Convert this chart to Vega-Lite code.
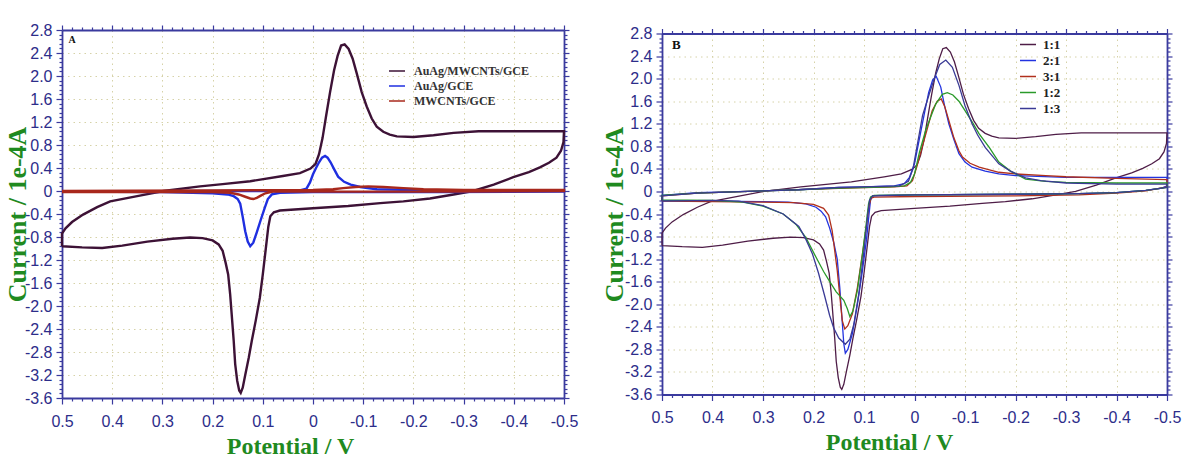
{
"$schema": "https://vega.github.io/schema/vega-lite/v6.json",
"background": "white",
"padding": {"left": 4, "top": 22, "right": 5, "bottom": 0},
"spacing": 23,
"center": true,
"resolve": {"scale": {"color": "independent"}, "legend": {"color": "independent"}},
"config": {
  "view": {"stroke": null},
  "axis": {"domainColor": "#3a3a9e", "domainWidth": 1.8, "tickColor": "#3a3a9e", "tickWidth": 1.2, "labelColor": "#2d2d8a", "labelFont": "Liberation Sans Narrow, Liberation Sans, Arial, sans-serif", "labelFontSize": 16, "gridColor": "#d6d2a8", "gridDash": [1.5, 4], "gridWidth": 1, "titleColor": "#1f8a1f", "titleFont": "Liberation Serif", "titleFontWeight": "bold", "titleFontSize": 24, "labelOverlap": false, "labelFlush": false, "labelBound": false},
  "axisLeft": {"titleFontSize": 26}
},
"datasets": {
"a": [
{"s":"AuAg/MWCNTs/GCE","n":1,"E":0.5,"I":-0.96},{"s":"AuAg/MWCNTs/GCE","n":2,"E":0.46,"I":-0.98},{"s":"AuAg/MWCNTs/GCE","n":3,"E":0.42,"I":-0.99},{"s":"AuAg/MWCNTs/GCE","n":4,"E":0.38,"I":-0.95},{"s":"AuAg/MWCNTs/GCE","n":5,"E":0.33,"I":-0.88},{"s":"AuAg/MWCNTs/GCE","n":6,"E":0.28,"I":-0.83},{"s":"AuAg/MWCNTs/GCE","n":7,"E":0.245,"I":-0.81},{"s":"AuAg/MWCNTs/GCE","n":8,"E":0.22,"I":-0.82},{"s":"AuAg/MWCNTs/GCE","n":9,"E":0.2,"I":-0.86},{"s":"AuAg/MWCNTs/GCE","n":10,"E":0.188,"I":-0.93},{"s":"AuAg/MWCNTs/GCE","n":11,"E":0.18,"I":-1.04},{"s":"AuAg/MWCNTs/GCE","n":12,"E":0.174,"I":-1.25},{"s":"AuAg/MWCNTs/GCE","n":13,"E":0.169,"I":-1.45},{"s":"AuAg/MWCNTs/GCE","n":14,"E":0.165,"I":-1.8},{"s":"AuAg/MWCNTs/GCE","n":15,"E":0.162,"I":-2.14},{"s":"AuAg/MWCNTs/GCE","n":16,"E":0.158,"I":-2.6},{"s":"AuAg/MWCNTs/GCE","n":17,"E":0.155,"I":-3.01},{"s":"AuAg/MWCNTs/GCE","n":18,"E":0.151,"I":-3.3},{"s":"AuAg/MWCNTs/GCE","n":19,"E":0.147,"I":-3.47},{"s":"AuAg/MWCNTs/GCE","n":20,"E":0.144,"I":-3.51},{"s":"AuAg/MWCNTs/GCE","n":21,"E":0.14,"I":-3.42},{"s":"AuAg/MWCNTs/GCE","n":22,"E":0.135,"I":-3.2},{"s":"AuAg/MWCNTs/GCE","n":23,"E":0.128,"I":-2.9},{"s":"AuAg/MWCNTs/GCE","n":24,"E":0.122,"I":-2.61},{"s":"AuAg/MWCNTs/GCE","n":25,"E":0.114,"I":-2.25},{"s":"AuAg/MWCNTs/GCE","n":26,"E":0.106,"I":-1.86},{"s":"AuAg/MWCNTs/GCE","n":27,"E":0.1,"I":-1.45},{"s":"AuAg/MWCNTs/GCE","n":28,"E":0.094,"I":-1.0},{"s":"AuAg/MWCNTs/GCE","n":29,"E":0.089,"I":-0.62},{"s":"AuAg/MWCNTs/GCE","n":30,"E":0.085,"I":-0.44},{"s":"AuAg/MWCNTs/GCE","n":31,"E":0.078,"I":-0.37},{"s":"AuAg/MWCNTs/GCE","n":32,"E":0.066,"I":-0.34},{"s":"AuAg/MWCNTs/GCE","n":33,"E":0.0,"I":-0.3},{"s":"AuAg/MWCNTs/GCE","n":34,"E":-0.07,"I":-0.26},{"s":"AuAg/MWCNTs/GCE","n":35,"E":-0.134,"I":-0.21},{"s":"AuAg/MWCNTs/GCE","n":36,"E":-0.18,"I":-0.18},{"s":"AuAg/MWCNTs/GCE","n":37,"E":-0.233,"I":-0.13},{"s":"AuAg/MWCNTs/GCE","n":38,"E":-0.28,"I":-0.06},{"s":"AuAg/MWCNTs/GCE","n":39,"E":-0.319,"I":0.0},{"s":"AuAg/MWCNTs/GCE","n":40,"E":-0.36,"I":0.11},{"s":"AuAg/MWCNTs/GCE","n":41,"E":-0.399,"I":0.24},{"s":"AuAg/MWCNTs/GCE","n":42,"E":-0.43,"I":0.33},{"s":"AuAg/MWCNTs/GCE","n":43,"E":-0.452,"I":0.41},{"s":"AuAg/MWCNTs/GCE","n":44,"E":-0.47,"I":0.49},{"s":"AuAg/MWCNTs/GCE","n":45,"E":-0.485,"I":0.58},{"s":"AuAg/MWCNTs/GCE","n":46,"E":-0.494,"I":0.7},{"s":"AuAg/MWCNTs/GCE","n":47,"E":-0.499,"I":0.85},{"s":"AuAg/MWCNTs/GCE","n":48,"E":-0.5,"I":1.04},{"s":"AuAg/MWCNTs/GCE","n":49,"E":-0.45,"I":1.04},{"s":"AuAg/MWCNTs/GCE","n":50,"E":-0.4,"I":1.04},{"s":"AuAg/MWCNTs/GCE","n":51,"E":-0.33,"I":1.04},{"s":"AuAg/MWCNTs/GCE","n":52,"E":-0.28,"I":1.01},{"s":"AuAg/MWCNTs/GCE","n":53,"E":-0.24,"I":0.97},{"s":"AuAg/MWCNTs/GCE","n":54,"E":-0.2,"I":0.94},{"s":"AuAg/MWCNTs/GCE","n":55,"E":-0.167,"I":0.95},{"s":"AuAg/MWCNTs/GCE","n":56,"E":-0.153,"I":0.98},{"s":"AuAg/MWCNTs/GCE","n":57,"E":-0.14,"I":1.03},{"s":"AuAg/MWCNTs/GCE","n":58,"E":-0.127,"I":1.12},{"s":"AuAg/MWCNTs/GCE","n":59,"E":-0.117,"I":1.26},{"s":"AuAg/MWCNTs/GCE","n":60,"E":-0.107,"I":1.47},{"s":"AuAg/MWCNTs/GCE","n":61,"E":-0.097,"I":1.72},{"s":"AuAg/MWCNTs/GCE","n":62,"E":-0.087,"I":2.05},{"s":"AuAg/MWCNTs/GCE","n":63,"E":-0.079,"I":2.3},{"s":"AuAg/MWCNTs/GCE","n":64,"E":-0.071,"I":2.47},{"s":"AuAg/MWCNTs/GCE","n":65,"E":-0.063,"I":2.55},{"s":"AuAg/MWCNTs/GCE","n":66,"E":-0.056,"I":2.53},{"s":"AuAg/MWCNTs/GCE","n":67,"E":-0.049,"I":2.35},{"s":"AuAg/MWCNTs/GCE","n":68,"E":-0.042,"I":2.1},{"s":"AuAg/MWCNTs/GCE","n":69,"E":-0.034,"I":1.72},{"s":"AuAg/MWCNTs/GCE","n":70,"E":-0.026,"I":1.3},{"s":"AuAg/MWCNTs/GCE","n":71,"E":-0.019,"I":0.92},{"s":"AuAg/MWCNTs/GCE","n":72,"E":-0.012,"I":0.64},{"s":"AuAg/MWCNTs/GCE","n":73,"E":-0.005,"I":0.47},{"s":"AuAg/MWCNTs/GCE","n":74,"E":0.005,"I":0.39},{"s":"AuAg/MWCNTs/GCE","n":75,"E":0.026,"I":0.31},{"s":"AuAg/MWCNTs/GCE","n":76,"E":0.06,"I":0.26},{"s":"AuAg/MWCNTs/GCE","n":77,"E":0.125,"I":0.17},{"s":"AuAg/MWCNTs/GCE","n":78,"E":0.18,"I":0.12},{"s":"AuAg/MWCNTs/GCE","n":79,"E":0.225,"I":0.08},{"s":"AuAg/MWCNTs/GCE","n":80,"E":0.298,"I":0.0},{"s":"AuAg/MWCNTs/GCE","n":81,"E":0.345,"I":-0.08},{"s":"AuAg/MWCNTs/GCE","n":82,"E":0.404,"I":-0.18},{"s":"AuAg/MWCNTs/GCE","n":83,"E":0.43,"I":-0.28},{"s":"AuAg/MWCNTs/GCE","n":84,"E":0.458,"I":-0.41},{"s":"AuAg/MWCNTs/GCE","n":85,"E":0.48,"I":-0.54},{"s":"AuAg/MWCNTs/GCE","n":86,"E":0.493,"I":-0.65},{"s":"AuAg/MWCNTs/GCE","n":87,"E":0.5,"I":-0.74},{"s":"AuAg/MWCNTs/GCE","n":88,"E":0.5,"I":-0.96},
{"s":"AuAg/GCE","n":1,"E":0.5,"I":-0.01},{"s":"AuAg/GCE","n":2,"E":0.3,"I":-0.02},{"s":"AuAg/GCE","n":3,"E":0.2,"I":-0.04},{"s":"AuAg/GCE","n":4,"E":0.17,"I":-0.06},{"s":"AuAg/GCE","n":5,"E":0.158,"I":-0.09},{"s":"AuAg/GCE","n":6,"E":0.15,"I":-0.14},{"s":"AuAg/GCE","n":7,"E":0.145,"I":-0.22},{"s":"AuAg/GCE","n":8,"E":0.14,"I":-0.45},{"s":"AuAg/GCE","n":9,"E":0.135,"I":-0.7},{"s":"AuAg/GCE","n":10,"E":0.13,"I":-0.88},{"s":"AuAg/GCE","n":11,"E":0.125,"I":-0.96},{"s":"AuAg/GCE","n":12,"E":0.119,"I":-0.9},{"s":"AuAg/GCE","n":13,"E":0.112,"I":-0.72},{"s":"AuAg/GCE","n":14,"E":0.104,"I":-0.5},{"s":"AuAg/GCE","n":15,"E":0.096,"I":-0.29},{"s":"AuAg/GCE","n":16,"E":0.09,"I":-0.14},{"s":"AuAg/GCE","n":17,"E":0.082,"I":-0.06},{"s":"AuAg/GCE","n":18,"E":0.066,"I":-0.03},{"s":"AuAg/GCE","n":19,"E":0.0,"I":-0.02},{"s":"AuAg/GCE","n":20,"E":-0.25,"I":-0.02},{"s":"AuAg/GCE","n":21,"E":-0.5,"I":-0.01},{"s":"AuAg/GCE","n":22,"E":-0.5,"I":0.01},{"s":"AuAg/GCE","n":23,"E":-0.25,"I":0.01},{"s":"AuAg/GCE","n":24,"E":-0.127,"I":0.03},{"s":"AuAg/GCE","n":25,"E":-0.094,"I":0.07},{"s":"AuAg/GCE","n":26,"E":-0.075,"I":0.11},{"s":"AuAg/GCE","n":27,"E":-0.062,"I":0.16},{"s":"AuAg/GCE","n":28,"E":-0.05,"I":0.25},{"s":"AuAg/GCE","n":29,"E":-0.042,"I":0.38},{"s":"AuAg/GCE","n":30,"E":-0.035,"I":0.5},{"s":"AuAg/GCE","n":31,"E":-0.029,"I":0.58},{"s":"AuAg/GCE","n":32,"E":-0.024,"I":0.61},{"s":"AuAg/GCE","n":33,"E":-0.018,"I":0.58},{"s":"AuAg/GCE","n":34,"E":-0.012,"I":0.5},{"s":"AuAg/GCE","n":35,"E":-0.006,"I":0.4},{"s":"AuAg/GCE","n":36,"E":0.0,"I":0.29},{"s":"AuAg/GCE","n":37,"E":0.006,"I":0.15},{"s":"AuAg/GCE","n":38,"E":0.013,"I":0.04},{"s":"AuAg/GCE","n":39,"E":0.03,"I":0.0},{"s":"AuAg/GCE","n":40,"E":0.2,"I":0.0},{"s":"AuAg/GCE","n":41,"E":0.5,"I":-0.01},
{"s":"MWCNTs/GCE","n":1,"E":0.5,"I":-0.02},{"s":"MWCNTs/GCE","n":2,"E":0.2,"I":-0.02},{"s":"MWCNTs/GCE","n":3,"E":0.165,"I":-0.03},{"s":"MWCNTs/GCE","n":4,"E":0.148,"I":-0.06},{"s":"MWCNTs/GCE","n":5,"E":0.135,"I":-0.1},{"s":"MWCNTs/GCE","n":6,"E":0.125,"I":-0.13},{"s":"MWCNTs/GCE","n":7,"E":0.119,"I":-0.14},{"s":"MWCNTs/GCE","n":8,"E":0.112,"I":-0.12},{"s":"MWCNTs/GCE","n":9,"E":0.104,"I":-0.08},{"s":"MWCNTs/GCE","n":10,"E":0.095,"I":-0.04},{"s":"MWCNTs/GCE","n":11,"E":0.08,"I":-0.01},{"s":"MWCNTs/GCE","n":12,"E":0.0,"I":-0.01},{"s":"MWCNTs/GCE","n":13,"E":-0.3,"I":-0.01},{"s":"MWCNTs/GCE","n":14,"E":-0.5,"I":0.0},{"s":"MWCNTs/GCE","n":15,"E":-0.5,"I":0.02},{"s":"MWCNTs/GCE","n":16,"E":-0.3,"I":0.02},{"s":"MWCNTs/GCE","n":17,"E":-0.22,"I":0.03},{"s":"MWCNTs/GCE","n":18,"E":-0.18,"I":0.05},{"s":"MWCNTs/GCE","n":19,"E":-0.14,"I":0.07},{"s":"MWCNTs/GCE","n":20,"E":-0.11,"I":0.08},{"s":"MWCNTs/GCE","n":21,"E":-0.085,"I":0.07},{"s":"MWCNTs/GCE","n":22,"E":-0.06,"I":0.05},{"s":"MWCNTs/GCE","n":23,"E":-0.04,"I":0.03},{"s":"MWCNTs/GCE","n":24,"E":0.0,"I":0.02},{"s":"MWCNTs/GCE","n":25,"E":0.2,"I":0.01},{"s":"MWCNTs/GCE","n":26,"E":0.5,"I":0.0}
],
"b": [
{"s":"1:1","n":1,"E":0.5,"I":-0.96},{"s":"1:1","n":2,"E":0.46,"I":-0.98},{"s":"1:1","n":3,"E":0.42,"I":-0.99},{"s":"1:1","n":4,"E":0.38,"I":-0.95},{"s":"1:1","n":5,"E":0.33,"I":-0.88},{"s":"1:1","n":6,"E":0.28,"I":-0.83},{"s":"1:1","n":7,"E":0.245,"I":-0.81},{"s":"1:1","n":8,"E":0.22,"I":-0.82},{"s":"1:1","n":9,"E":0.2,"I":-0.86},{"s":"1:1","n":10,"E":0.188,"I":-0.93},{"s":"1:1","n":11,"E":0.18,"I":-1.04},{"s":"1:1","n":12,"E":0.174,"I":-1.25},{"s":"1:1","n":13,"E":0.169,"I":-1.45},{"s":"1:1","n":14,"E":0.165,"I":-1.8},{"s":"1:1","n":15,"E":0.162,"I":-2.14},{"s":"1:1","n":16,"E":0.158,"I":-2.6},{"s":"1:1","n":17,"E":0.155,"I":-3.01},{"s":"1:1","n":18,"E":0.151,"I":-3.3},{"s":"1:1","n":19,"E":0.147,"I":-3.47},{"s":"1:1","n":20,"E":0.144,"I":-3.51},{"s":"1:1","n":21,"E":0.14,"I":-3.42},{"s":"1:1","n":22,"E":0.135,"I":-3.2},{"s":"1:1","n":23,"E":0.128,"I":-2.9},{"s":"1:1","n":24,"E":0.122,"I":-2.61},{"s":"1:1","n":25,"E":0.114,"I":-2.25},{"s":"1:1","n":26,"E":0.106,"I":-1.86},{"s":"1:1","n":27,"E":0.1,"I":-1.45},{"s":"1:1","n":28,"E":0.094,"I":-1.0},{"s":"1:1","n":29,"E":0.089,"I":-0.62},{"s":"1:1","n":30,"E":0.085,"I":-0.44},{"s":"1:1","n":31,"E":0.078,"I":-0.37},{"s":"1:1","n":32,"E":0.066,"I":-0.34},{"s":"1:1","n":33,"E":0.0,"I":-0.3},{"s":"1:1","n":34,"E":-0.07,"I":-0.26},{"s":"1:1","n":35,"E":-0.134,"I":-0.21},{"s":"1:1","n":36,"E":-0.18,"I":-0.18},{"s":"1:1","n":37,"E":-0.233,"I":-0.13},{"s":"1:1","n":38,"E":-0.28,"I":-0.06},{"s":"1:1","n":39,"E":-0.319,"I":0.0},{"s":"1:1","n":40,"E":-0.36,"I":0.11},{"s":"1:1","n":41,"E":-0.399,"I":0.24},{"s":"1:1","n":42,"E":-0.43,"I":0.33},{"s":"1:1","n":43,"E":-0.452,"I":0.41},{"s":"1:1","n":44,"E":-0.47,"I":0.49},{"s":"1:1","n":45,"E":-0.485,"I":0.58},{"s":"1:1","n":46,"E":-0.494,"I":0.7},{"s":"1:1","n":47,"E":-0.499,"I":0.85},{"s":"1:1","n":48,"E":-0.5,"I":1.04},{"s":"1:1","n":49,"E":-0.45,"I":1.04},{"s":"1:1","n":50,"E":-0.4,"I":1.04},{"s":"1:1","n":51,"E":-0.33,"I":1.04},{"s":"1:1","n":52,"E":-0.28,"I":1.01},{"s":"1:1","n":53,"E":-0.24,"I":0.97},{"s":"1:1","n":54,"E":-0.2,"I":0.94},{"s":"1:1","n":55,"E":-0.167,"I":0.95},{"s":"1:1","n":56,"E":-0.153,"I":0.98},{"s":"1:1","n":57,"E":-0.14,"I":1.03},{"s":"1:1","n":58,"E":-0.127,"I":1.12},{"s":"1:1","n":59,"E":-0.117,"I":1.26},{"s":"1:1","n":60,"E":-0.107,"I":1.47},{"s":"1:1","n":61,"E":-0.097,"I":1.72},{"s":"1:1","n":62,"E":-0.087,"I":2.05},{"s":"1:1","n":63,"E":-0.079,"I":2.3},{"s":"1:1","n":64,"E":-0.071,"I":2.47},{"s":"1:1","n":65,"E":-0.063,"I":2.55},{"s":"1:1","n":66,"E":-0.056,"I":2.53},{"s":"1:1","n":67,"E":-0.049,"I":2.35},{"s":"1:1","n":68,"E":-0.042,"I":2.1},{"s":"1:1","n":69,"E":-0.034,"I":1.72},{"s":"1:1","n":70,"E":-0.026,"I":1.3},{"s":"1:1","n":71,"E":-0.019,"I":0.92},{"s":"1:1","n":72,"E":-0.012,"I":0.64},{"s":"1:1","n":73,"E":-0.005,"I":0.47},{"s":"1:1","n":74,"E":0.005,"I":0.39},{"s":"1:1","n":75,"E":0.026,"I":0.31},{"s":"1:1","n":76,"E":0.06,"I":0.26},{"s":"1:1","n":77,"E":0.125,"I":0.17},{"s":"1:1","n":78,"E":0.18,"I":0.12},{"s":"1:1","n":79,"E":0.225,"I":0.08},{"s":"1:1","n":80,"E":0.298,"I":0.0},{"s":"1:1","n":81,"E":0.345,"I":-0.08},{"s":"1:1","n":82,"E":0.404,"I":-0.18},{"s":"1:1","n":83,"E":0.43,"I":-0.28},{"s":"1:1","n":84,"E":0.458,"I":-0.41},{"s":"1:1","n":85,"E":0.48,"I":-0.54},{"s":"1:1","n":86,"E":0.493,"I":-0.65},{"s":"1:1","n":87,"E":0.5,"I":-0.74},{"s":"1:1","n":88,"E":0.5,"I":-0.96},
{"s":"2:1","n":1,"E":0.5,"I":-0.16},{"s":"2:1","n":2,"E":0.4,"I":-0.17},{"s":"2:1","n":3,"E":0.3,"I":-0.18},{"s":"2:1","n":4,"E":0.25,"I":-0.19},{"s":"2:1","n":5,"E":0.215,"I":-0.22},{"s":"2:1","n":6,"E":0.195,"I":-0.28},{"s":"2:1","n":7,"E":0.185,"I":-0.35},{"s":"2:1","n":8,"E":0.176,"I":-0.45},{"s":"2:1","n":9,"E":0.168,"I":-0.65},{"s":"2:1","n":10,"E":0.16,"I":-0.9},{"s":"2:1","n":11,"E":0.153,"I":-1.2},{"s":"2:1","n":12,"E":0.148,"I":-1.7},{"s":"2:1","n":13,"E":0.144,"I":-2.2},{"s":"2:1","n":14,"E":0.14,"I":-2.7},{"s":"2:1","n":15,"E":0.137,"I":-2.87},{"s":"2:1","n":16,"E":0.132,"I":-2.8},{"s":"2:1","n":17,"E":0.123,"I":-2.52},{"s":"2:1","n":18,"E":0.113,"I":-2.0},{"s":"2:1","n":19,"E":0.103,"I":-1.4},{"s":"2:1","n":20,"E":0.095,"I":-0.85},{"s":"2:1","n":21,"E":0.09,"I":-0.4},{"s":"2:1","n":22,"E":0.087,"I":-0.15},{"s":"2:1","n":23,"E":0.083,"I":-0.08},{"s":"2:1","n":24,"E":0.07,"I":-0.07},{"s":"2:1","n":25,"E":0.0,"I":-0.06},{"s":"2:1","n":26,"E":-0.2,"I":-0.05},{"s":"2:1","n":27,"E":-0.326,"I":-0.04},{"s":"2:1","n":28,"E":-0.4,"I":-0.02},{"s":"2:1","n":29,"E":-0.458,"I":0.02},{"s":"2:1","n":30,"E":-0.49,"I":0.06},{"s":"2:1","n":31,"E":-0.5,"I":0.1},{"s":"2:1","n":32,"E":-0.5,"I":0.25},{"s":"2:1","n":33,"E":-0.4,"I":0.25},{"s":"2:1","n":34,"E":-0.3,"I":0.25},{"s":"2:1","n":35,"E":-0.2,"I":0.28},{"s":"2:1","n":36,"E":-0.167,"I":0.31},{"s":"2:1","n":37,"E":-0.14,"I":0.36},{"s":"2:1","n":38,"E":-0.114,"I":0.43},{"s":"2:1","n":39,"E":-0.1,"I":0.52},{"s":"2:1","n":40,"E":-0.088,"I":0.67},{"s":"2:1","n":41,"E":-0.078,"I":0.92},{"s":"2:1","n":42,"E":-0.068,"I":1.2},{"s":"2:1","n":43,"E":-0.06,"I":1.5},{"s":"2:1","n":44,"E":-0.052,"I":1.85},{"s":"2:1","n":45,"E":-0.043,"I":2.04},{"s":"2:1","n":46,"E":-0.036,"I":1.98},{"s":"2:1","n":47,"E":-0.028,"I":1.75},{"s":"2:1","n":48,"E":-0.02,"I":1.4},{"s":"2:1","n":49,"E":-0.009,"I":0.9},{"s":"2:1","n":50,"E":0.0,"I":0.49},{"s":"2:1","n":51,"E":0.01,"I":0.25},{"s":"2:1","n":52,"E":0.02,"I":0.14},{"s":"2:1","n":53,"E":0.04,"I":0.1},{"s":"2:1","n":54,"E":0.1,"I":0.08},{"s":"2:1","n":55,"E":0.15,"I":0.07},{"s":"2:1","n":56,"E":0.23,"I":0.03},{"s":"2:1","n":57,"E":0.33,"I":0.0},{"s":"2:1","n":58,"E":0.43,"I":-0.02},{"s":"2:1","n":59,"E":0.5,"I":-0.07},{"s":"2:1","n":60,"E":0.5,"I":-0.16},
{"s":"3:1","n":1,"E":0.5,"I":-0.17},{"s":"3:1","n":2,"E":0.4,"I":-0.18},{"s":"3:1","n":3,"E":0.3,"I":-0.19},{"s":"3:1","n":4,"E":0.24,"I":-0.2},{"s":"3:1","n":5,"E":0.2,"I":-0.23},{"s":"3:1","n":6,"E":0.18,"I":-0.3},{"s":"3:1","n":7,"E":0.17,"I":-0.42},{"s":"3:1","n":8,"E":0.163,"I":-0.7},{"s":"3:1","n":9,"E":0.158,"I":-1.05},{"s":"3:1","n":10,"E":0.153,"I":-1.4},{"s":"3:1","n":11,"E":0.148,"I":-1.85},{"s":"3:1","n":12,"E":0.143,"I":-2.29},{"s":"3:1","n":13,"E":0.138,"I":-2.44},{"s":"3:1","n":14,"E":0.132,"I":-2.38},{"s":"3:1","n":15,"E":0.123,"I":-2.17},{"s":"3:1","n":16,"E":0.113,"I":-1.7},{"s":"3:1","n":17,"E":0.103,"I":-1.1},{"s":"3:1","n":18,"E":0.095,"I":-0.6},{"s":"3:1","n":19,"E":0.09,"I":-0.25},{"s":"3:1","n":20,"E":0.086,"I":-0.12},{"s":"3:1","n":21,"E":0.08,"I":-0.1},{"s":"3:1","n":22,"E":0.0,"I":-0.09},{"s":"3:1","n":23,"E":-0.2,"I":-0.08},{"s":"3:1","n":24,"E":-0.326,"I":-0.06},{"s":"3:1","n":25,"E":-0.4,"I":-0.03},{"s":"3:1","n":26,"E":-0.458,"I":0.01},{"s":"3:1","n":27,"E":-0.5,"I":0.08},{"s":"3:1","n":28,"E":-0.5,"I":0.21},{"s":"3:1","n":29,"E":-0.4,"I":0.23},{"s":"3:1","n":30,"E":-0.3,"I":0.26},{"s":"3:1","n":31,"E":-0.26,"I":0.28},{"s":"3:1","n":32,"E":-0.2,"I":0.31},{"s":"3:1","n":33,"E":-0.167,"I":0.34},{"s":"3:1","n":34,"E":-0.128,"I":0.43},{"s":"3:1","n":35,"E":-0.11,"I":0.5},{"s":"3:1","n":36,"E":-0.095,"I":0.61},{"s":"3:1","n":37,"E":-0.088,"I":0.72},{"s":"3:1","n":38,"E":-0.078,"I":0.95},{"s":"3:1","n":39,"E":-0.068,"I":1.26},{"s":"3:1","n":40,"E":-0.06,"I":1.5},{"s":"3:1","n":41,"E":-0.053,"I":1.64},{"s":"3:1","n":42,"E":-0.045,"I":1.6},{"s":"3:1","n":43,"E":-0.035,"I":1.43},{"s":"3:1","n":44,"E":-0.025,"I":1.1},{"s":"3:1","n":45,"E":-0.015,"I":0.78},{"s":"3:1","n":46,"E":-0.005,"I":0.45},{"s":"3:1","n":47,"E":0.004,"I":0.19},{"s":"3:1","n":48,"E":0.015,"I":0.1},{"s":"3:1","n":49,"E":0.04,"I":0.08},{"s":"3:1","n":50,"E":0.1,"I":0.07},{"s":"3:1","n":51,"E":0.2,"I":0.04},{"s":"3:1","n":52,"E":0.33,"I":0.0},{"s":"3:1","n":53,"E":0.43,"I":-0.03},{"s":"3:1","n":54,"E":0.5,"I":-0.08},{"s":"3:1","n":55,"E":0.5,"I":-0.17},
{"s":"1:2","n":1,"E":0.5,"I":-0.15},{"s":"1:2","n":2,"E":0.4,"I":-0.16},{"s":"1:2","n":3,"E":0.34,"I":-0.19},{"s":"1:2","n":4,"E":0.3,"I":-0.26},{"s":"1:2","n":5,"E":0.26,"I":-0.4},{"s":"1:2","n":6,"E":0.235,"I":-0.58},{"s":"1:2","n":7,"E":0.215,"I":-0.82},{"s":"1:2","n":8,"E":0.196,"I":-1.15},{"s":"1:2","n":9,"E":0.18,"I":-1.42},{"s":"1:2","n":10,"E":0.169,"I":-1.58},{"s":"1:2","n":11,"E":0.155,"I":-1.78},{"s":"1:2","n":12,"E":0.14,"I":-1.93},{"s":"1:2","n":13,"E":0.133,"I":-2.08},{"s":"1:2","n":14,"E":0.128,"I":-2.22},{"s":"1:2","n":15,"E":0.122,"I":-2.12},{"s":"1:2","n":16,"E":0.113,"I":-1.75},{"s":"1:2","n":17,"E":0.103,"I":-1.11},{"s":"1:2","n":18,"E":0.096,"I":-0.6},{"s":"1:2","n":19,"E":0.091,"I":-0.22},{"s":"1:2","n":20,"E":0.087,"I":-0.1},{"s":"1:2","n":21,"E":0.08,"I":-0.07},{"s":"1:2","n":22,"E":0.0,"I":-0.06},{"s":"1:2","n":23,"E":-0.2,"I":-0.05},{"s":"1:2","n":24,"E":-0.326,"I":-0.04},{"s":"1:2","n":25,"E":-0.4,"I":-0.02},{"s":"1:2","n":26,"E":-0.458,"I":0.02},{"s":"1:2","n":27,"E":-0.5,"I":0.07},{"s":"1:2","n":28,"E":-0.5,"I":0.15},{"s":"1:2","n":29,"E":-0.4,"I":0.15},{"s":"1:2","n":30,"E":-0.3,"I":0.16},{"s":"1:2","n":31,"E":-0.26,"I":0.18},{"s":"1:2","n":32,"E":-0.22,"I":0.22},{"s":"1:2","n":33,"E":-0.19,"I":0.36},{"s":"1:2","n":34,"E":-0.167,"I":0.52},{"s":"1:2","n":35,"E":-0.148,"I":0.78},{"s":"1:2","n":36,"E":-0.128,"I":1.02},{"s":"1:2","n":37,"E":-0.115,"I":1.22},{"s":"1:2","n":38,"E":-0.101,"I":1.42},{"s":"1:2","n":39,"E":-0.088,"I":1.6},{"s":"1:2","n":40,"E":-0.076,"I":1.71},{"s":"1:2","n":41,"E":-0.065,"I":1.75},{"s":"1:2","n":42,"E":-0.055,"I":1.72},{"s":"1:2","n":43,"E":-0.042,"I":1.55},{"s":"1:2","n":44,"E":-0.032,"I":1.32},{"s":"1:2","n":45,"E":-0.022,"I":1.08},{"s":"1:2","n":46,"E":-0.01,"I":0.7},{"s":"1:2","n":47,"E":0.0,"I":0.31},{"s":"1:2","n":48,"E":0.008,"I":0.16},{"s":"1:2","n":49,"E":0.02,"I":0.1},{"s":"1:2","n":50,"E":0.05,"I":0.08},{"s":"1:2","n":51,"E":0.15,"I":0.06},{"s":"1:2","n":52,"E":0.23,"I":0.03},{"s":"1:2","n":53,"E":0.33,"I":0.0},{"s":"1:2","n":54,"E":0.43,"I":-0.03},{"s":"1:2","n":55,"E":0.5,"I":-0.07},{"s":"1:2","n":56,"E":0.5,"I":-0.15},
{"s":"1:3","n":1,"E":0.5,"I":-0.17},{"s":"1:3","n":2,"E":0.4,"I":-0.16},{"s":"1:3","n":3,"E":0.348,"I":-0.17},{"s":"1:3","n":4,"E":0.3,"I":-0.25},{"s":"1:3","n":5,"E":0.26,"I":-0.4},{"s":"1:3","n":6,"E":0.229,"I":-0.62},{"s":"1:3","n":7,"E":0.215,"I":-0.85},{"s":"1:3","n":8,"E":0.202,"I":-1.11},{"s":"1:3","n":9,"E":0.19,"I":-1.45},{"s":"1:3","n":10,"E":0.178,"I":-1.85},{"s":"1:3","n":11,"E":0.168,"I":-2.2},{"s":"1:3","n":12,"E":0.16,"I":-2.42},{"s":"1:3","n":13,"E":0.15,"I":-2.6},{"s":"1:3","n":14,"E":0.137,"I":-2.71},{"s":"1:3","n":15,"E":0.128,"I":-2.62},{"s":"1:3","n":16,"E":0.12,"I":-2.35},{"s":"1:3","n":17,"E":0.11,"I":-1.8},{"s":"1:3","n":18,"E":0.1,"I":-1.05},{"s":"1:3","n":19,"E":0.093,"I":-0.45},{"s":"1:3","n":20,"E":0.089,"I":-0.15},{"s":"1:3","n":21,"E":0.083,"I":-0.08},{"s":"1:3","n":22,"E":0.0,"I":-0.06},{"s":"1:3","n":23,"E":-0.2,"I":-0.05},{"s":"1:3","n":24,"E":-0.326,"I":-0.04},{"s":"1:3","n":25,"E":-0.4,"I":-0.02},{"s":"1:3","n":26,"E":-0.458,"I":0.02},{"s":"1:3","n":27,"E":-0.5,"I":0.07},{"s":"1:3","n":28,"E":-0.5,"I":0.13},{"s":"1:3","n":29,"E":-0.4,"I":0.13},{"s":"1:3","n":30,"E":-0.3,"I":0.15},{"s":"1:3","n":31,"E":-0.25,"I":0.19},{"s":"1:3","n":32,"E":-0.22,"I":0.24},{"s":"1:3","n":33,"E":-0.19,"I":0.36},{"s":"1:3","n":34,"E":-0.167,"I":0.49},{"s":"1:3","n":35,"E":-0.14,"I":0.78},{"s":"1:3","n":36,"E":-0.125,"I":1.0},{"s":"1:3","n":37,"E":-0.114,"I":1.2},{"s":"1:3","n":38,"E":-0.1,"I":1.52},{"s":"1:3","n":39,"E":-0.088,"I":1.88},{"s":"1:3","n":40,"E":-0.075,"I":2.2},{"s":"1:3","n":41,"E":-0.062,"I":2.33},{"s":"1:3","n":42,"E":-0.05,"I":2.25},{"s":"1:3","n":43,"E":-0.04,"I":2.02},{"s":"1:3","n":44,"E":-0.03,"I":1.75},{"s":"1:3","n":45,"E":-0.016,"I":1.35},{"s":"1:3","n":46,"E":-0.005,"I":0.8},{"s":"1:3","n":47,"E":0.003,"I":0.4},{"s":"1:3","n":48,"E":0.012,"I":0.18},{"s":"1:3","n":49,"E":0.03,"I":0.1},{"s":"1:3","n":50,"E":0.1,"I":0.08},{"s":"1:3","n":51,"E":0.15,"I":0.07},{"s":"1:3","n":52,"E":0.23,"I":0.03},{"s":"1:3","n":53,"E":0.33,"I":0.0},{"s":"1:3","n":54,"E":0.43,"I":-0.03},{"s":"1:3","n":55,"E":0.5,"I":-0.08},{"s":"1:3","n":56,"E":0.5,"I":-0.17}
]
},
"hconcat": [
{
  "width": 502, "height": 368,
  "resolve": {"axis": {"x": "independent", "y": "independent"}},
  "layer": [
    {
      "data": {"name": "a"},
      "mark": {"type": "line", "strokeWidth": 2.4},
      "encoding": {
        "x": {"field": "E", "type": "quantitative", "scale": {"domain": [0.5, -0.5], "nice": false, "zero": false},
          "axis": {"orient": "bottom", "title": "Potential / V", "titleX": 228, "titlePadding": 5,
            "values": [0.5,0.48,0.46,0.44,0.42,0.4,0.38,0.36,0.34,0.32,0.3,0.28,0.26,0.24,0.22,0.2,0.18,0.16,0.14,0.12,0.1,0.08,0.06,0.04,0.02,0,-0.02,-0.04,-0.06,-0.08,-0.1,-0.12,-0.14,-0.16,-0.18,-0.2,-0.22,-0.24,-0.26,-0.28,-0.3,-0.32,-0.34,-0.36,-0.38,-0.4,-0.42,-0.44,-0.46,-0.48,-0.5],
            "grid": true,
            "gridOpacity": {"condition": {"test": "abs(datum.value*10 - round(datum.value*10)) < 1e-6", "value": 1}, "value": 0},
            "tickSize": {"condition": {"test": "abs(datum.value*10 - round(datum.value*10)) < 1e-6", "value": 6}, "value": 3},
            "labelPadding": 9,
            "labelExpr": "abs(datum.value*10 - round(datum.value*10)) < 1e-6 ? (abs(datum.value) < 1e-9 ? '0' : replace(format(datum.value, '.1f'), '\u2212', '-')) : ''"}},
        "y": {"field": "I", "type": "quantitative", "scale": {"domain": [-3.6, 2.8], "nice": false, "zero": false},
          "axis": {"orient": "left", "title": "Current / 1e-4A", "titlePadding": -6,
            "values": [-3.6,-3.52,-3.44,-3.36,-3.28,-3.2,-3.12,-3.04,-2.96,-2.88,-2.8,-2.72,-2.64,-2.56,-2.48,-2.4,-2.32,-2.24,-2.16,-2.08,-2.0,-1.92,-1.84,-1.76,-1.68,-1.6,-1.52,-1.44,-1.36,-1.28,-1.2,-1.12,-1.04,-0.96,-0.88,-0.8,-0.72,-0.64,-0.56,-0.48,-0.4,-0.32,-0.24,-0.16,-0.08,0,0.08,0.16,0.24,0.32,0.4,0.48,0.56,0.64,0.72,0.8,0.88,0.96,1.04,1.12,1.2,1.28,1.36,1.44,1.52,1.6,1.68,1.76,1.84,1.92,2.0,2.08,2.16,2.24,2.32,2.4,2.48,2.56,2.64,2.72,2.8],
            "grid": true,
            "gridOpacity": {"condition": {"test": "abs(datum.value*2.5 - round(datum.value*2.5)) < 1e-6", "value": 1}, "value": 0},
            "tickSize": {"condition": {"test": "abs(datum.value*2.5 - round(datum.value*2.5)) < 1e-6", "value": 6}, "value": 3},
            "labelPadding": 4,
            "labelExpr": "abs(datum.value*2.5 - round(datum.value*2.5)) < 1e-6 ? (abs(datum.value) < 1e-9 ? '0' : replace(format(datum.value, '.1f'), '\u2212', '-')) : ''"}},
        "color": {"field": "s", "type": "nominal",
          "scale": {"domain": ["AuAg/MWCNTs/GCE", "AuAg/GCE", "MWCNTs/GCE"], "range": ["#3d1236", "#1f2fe0", "#a8281c"]},
          "legend": {"orient": "none", "legendX": 326, "legendY": 32, "title": null, "symbolType": "stroke", "symbolSize": 256, "symbolStrokeWidth": 1.5, "labelFont": "Liberation Serif", "labelFontWeight": "bold", "labelFontSize": 12, "labelColor": "#333333", "rowPadding": 0, "labelOffset": 8, "padding": 0}},
        "order": {"field": "n", "type": "quantitative"}
      }
    },
    {
      "data": {"values": [{}]},
      "mark": {"type": "text", "font": "Liberation Serif", "fontWeight": "bold", "fontSize": 10, "color": "#111111", "align": "left", "baseline": "middle"},
      "encoding": {
        "x": {"datum": 0.487, "axis": {"orient": "top", "title": null, "labels": false, "grid": false,
          "values": [0.5,0.48,0.46,0.44,0.42,0.4,0.38,0.36,0.34,0.32,0.3,0.28,0.26,0.24,0.22,0.2,0.18,0.16,0.14,0.12,0.1,0.08,0.06,0.04,0.02,0,-0.02,-0.04,-0.06,-0.08,-0.1,-0.12,-0.14,-0.16,-0.18,-0.2,-0.22,-0.24,-0.26,-0.28,-0.3,-0.32,-0.34,-0.36,-0.38,-0.4,-0.42,-0.44,-0.46,-0.48,-0.5],
          "tickSize": {"condition": {"test": "abs(datum.value*10 - round(datum.value*10)) < 1e-6", "value": 5}, "value": 3}}},
        "y": {"datum": 2.63, "axis": {"orient": "right", "title": null, "labels": false, "grid": false,
          "values": [-3.6,-3.52,-3.44,-3.36,-3.28,-3.2,-3.12,-3.04,-2.96,-2.88,-2.8,-2.72,-2.64,-2.56,-2.48,-2.4,-2.32,-2.24,-2.16,-2.08,-2.0,-1.92,-1.84,-1.76,-1.68,-1.6,-1.52,-1.44,-1.36,-1.28,-1.2,-1.12,-1.04,-0.96,-0.88,-0.8,-0.72,-0.64,-0.56,-0.48,-0.4,-0.32,-0.24,-0.16,-0.08,0,0.08,0.16,0.24,0.32,0.4,0.48,0.56,0.64,0.72,0.8,0.88,0.96,1.04,1.12,1.2,1.28,1.36,1.44,1.52,1.6,1.68,1.76,1.84,1.92,2.0,2.08,2.16,2.24,2.32,2.4,2.48,2.56,2.64,2.72,2.8],
          "tickSize": {"condition": {"test": "abs(datum.value*2.5 - round(datum.value*2.5)) < 1e-6", "value": 5}, "value": 3}}},
        "text": {"value": "A"}
      }
    }
  ]
},
{
  "width": 505, "height": 361,
  "resolve": {"axis": {"x": "independent", "y": "independent"}},
  "layer": [
    {
      "data": {"name": "b"},
      "mark": {"type": "line", "strokeWidth": 1.3},
      "encoding": {
        "x": {"field": "E", "type": "quantitative", "scale": {"domain": [0.5, -0.5], "nice": false, "zero": false},
          "axis": {"orient": "bottom", "title": "Potential / V", "titleX": 227, "titlePadding": 5,
            "values": [0.5,0.48,0.46,0.44,0.42,0.4,0.38,0.36,0.34,0.32,0.3,0.28,0.26,0.24,0.22,0.2,0.18,0.16,0.14,0.12,0.1,0.08,0.06,0.04,0.02,0,-0.02,-0.04,-0.06,-0.08,-0.1,-0.12,-0.14,-0.16,-0.18,-0.2,-0.22,-0.24,-0.26,-0.28,-0.3,-0.32,-0.34,-0.36,-0.38,-0.4,-0.42,-0.44,-0.46,-0.48,-0.5],
            "grid": true,
            "gridOpacity": {"condition": {"test": "abs(datum.value*10 - round(datum.value*10)) < 1e-6", "value": 1}, "value": 0},
            "tickSize": {"condition": {"test": "abs(datum.value*10 - round(datum.value*10)) < 1e-6", "value": 6}, "value": 3},
            "labelPadding": 9,
            "labelExpr": "abs(datum.value*10 - round(datum.value*10)) < 1e-6 ? (abs(datum.value) < 1e-9 ? '0' : replace(format(datum.value, '.1f'), '\u2212', '-')) : ''"}},
        "y": {"field": "I", "type": "quantitative", "scale": {"domain": [-3.6, 2.8], "nice": false, "zero": false},
          "axis": {"orient": "left", "title": "Current / 1e-4A", "titlePadding": -3,
            "values": [-3.6,-3.52,-3.44,-3.36,-3.28,-3.2,-3.12,-3.04,-2.96,-2.88,-2.8,-2.72,-2.64,-2.56,-2.48,-2.4,-2.32,-2.24,-2.16,-2.08,-2.0,-1.92,-1.84,-1.76,-1.68,-1.6,-1.52,-1.44,-1.36,-1.28,-1.2,-1.12,-1.04,-0.96,-0.88,-0.8,-0.72,-0.64,-0.56,-0.48,-0.4,-0.32,-0.24,-0.16,-0.08,0,0.08,0.16,0.24,0.32,0.4,0.48,0.56,0.64,0.72,0.8,0.88,0.96,1.04,1.12,1.2,1.28,1.36,1.44,1.52,1.6,1.68,1.76,1.84,1.92,2.0,2.08,2.16,2.24,2.32,2.4,2.48,2.56,2.64,2.72,2.8],
            "grid": true,
            "gridOpacity": {"condition": {"test": "abs(datum.value*2.5 - round(datum.value*2.5)) < 1e-6", "value": 1}, "value": 0},
            "tickSize": {"condition": {"test": "abs(datum.value*2.5 - round(datum.value*2.5)) < 1e-6", "value": 6}, "value": 3},
            "labelPadding": 4,
            "labelExpr": "abs(datum.value*2.5 - round(datum.value*2.5)) < 1e-6 ? (abs(datum.value) < 1e-9 ? '0' : replace(format(datum.value, '.1f'), '\u2212', '-')) : ''"}},
        "color": {"field": "s", "type": "nominal",
          "scale": {"domain": ["1:1", "2:1", "3:1", "1:2", "1:3"], "range": ["#4e1d47", "#2233e0", "#b0301c", "#2a9a2a", "#3a3a95"]},
          "legend": {"orient": "none", "legendX": 357, "legendY": 2, "title": null, "symbolType": "stroke", "symbolSize": 256, "symbolStrokeWidth": 1.5, "labelFont": "Liberation Serif", "labelFontWeight": "bold", "labelFontSize": 13, "labelColor": "#222222", "rowPadding": 0, "labelOffset": 6, "padding": 0}},
        "order": {"field": "n", "type": "quantitative"}
      }
    },
    {
      "data": {"values": [{}]},
      "mark": {"type": "text", "font": "Liberation Serif", "fontWeight": "bold", "fontSize": 13, "color": "#111111", "align": "left", "baseline": "middle"},
      "encoding": {
        "x": {"datum": 0.48, "axis": {"orient": "top", "title": null, "labels": false, "grid": false,
          "values": [0.5,0.48,0.46,0.44,0.42,0.4,0.38,0.36,0.34,0.32,0.3,0.28,0.26,0.24,0.22,0.2,0.18,0.16,0.14,0.12,0.1,0.08,0.06,0.04,0.02,0,-0.02,-0.04,-0.06,-0.08,-0.1,-0.12,-0.14,-0.16,-0.18,-0.2,-0.22,-0.24,-0.26,-0.28,-0.3,-0.32,-0.34,-0.36,-0.38,-0.4,-0.42,-0.44,-0.46,-0.48,-0.5],
          "tickSize": {"condition": {"test": "abs(datum.value*10 - round(datum.value*10)) < 1e-6", "value": 5}, "value": 3}}},
        "y": {"datum": 2.59, "axis": {"orient": "right", "title": null, "labels": false, "grid": false,
          "values": [-3.6,-3.52,-3.44,-3.36,-3.28,-3.2,-3.12,-3.04,-2.96,-2.88,-2.8,-2.72,-2.64,-2.56,-2.48,-2.4,-2.32,-2.24,-2.16,-2.08,-2.0,-1.92,-1.84,-1.76,-1.68,-1.6,-1.52,-1.44,-1.36,-1.28,-1.2,-1.12,-1.04,-0.96,-0.88,-0.8,-0.72,-0.64,-0.56,-0.48,-0.4,-0.32,-0.24,-0.16,-0.08,0,0.08,0.16,0.24,0.32,0.4,0.48,0.56,0.64,0.72,0.8,0.88,0.96,1.04,1.12,1.2,1.28,1.36,1.44,1.52,1.6,1.68,1.76,1.84,1.92,2.0,2.08,2.16,2.24,2.32,2.4,2.48,2.56,2.64,2.72,2.8],
          "tickSize": {"condition": {"test": "abs(datum.value*2.5 - round(datum.value*2.5)) < 1e-6", "value": 5}, "value": 3}}},
        "text": {"value": "B"}
      }
    }
  ]
}
]
}
